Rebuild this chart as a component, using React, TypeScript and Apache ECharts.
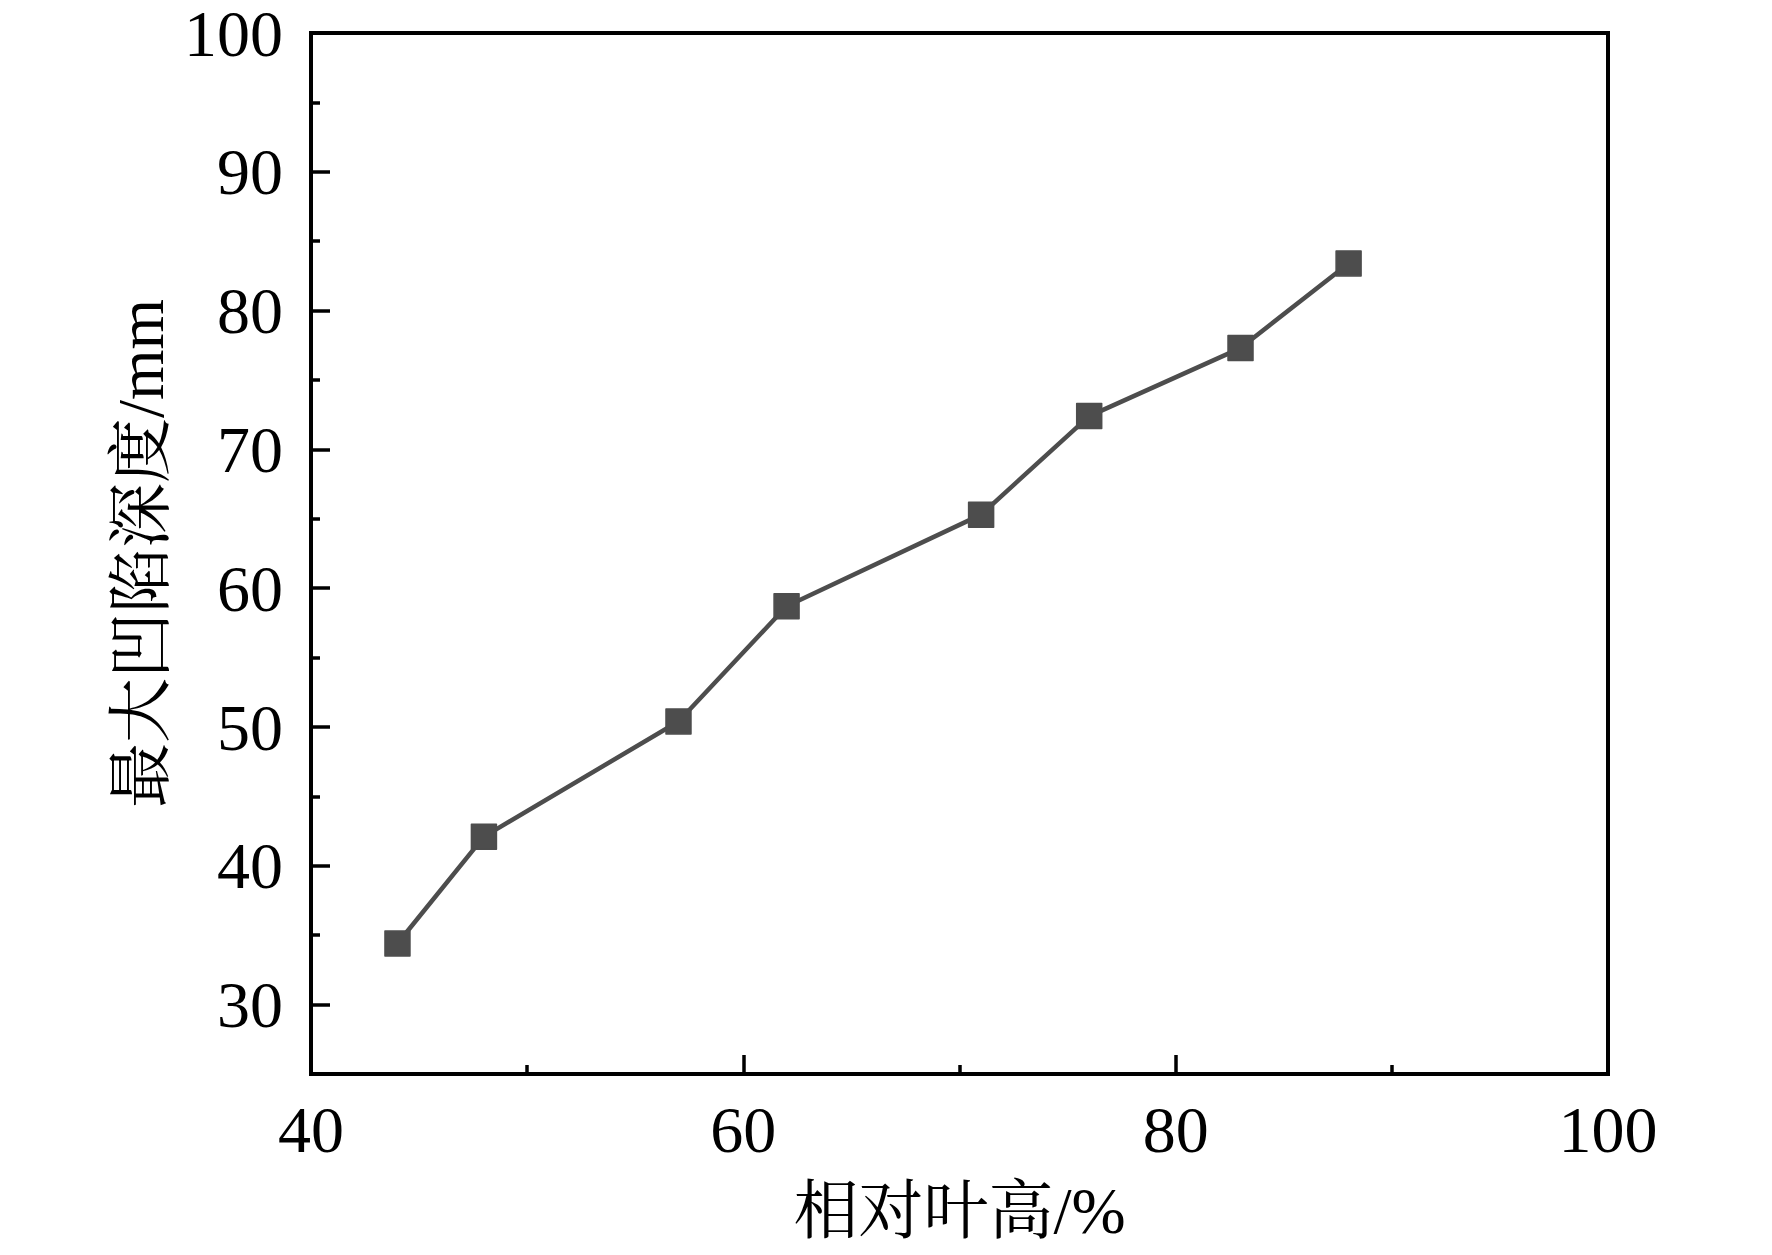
import React, { useEffect, useRef } from "react";
import * as echarts from "echarts";

const relHeight = [44, 48, 57, 62, 71, 76, 83, 88];
const maxDepth = [34.4, 42.1, 50.4, 58.7, 65.3, 72.4, 77.3, 83.4];
const yMajorTicks = [30, 40, 50, 60, 70, 80, 90, 100];
const yMinorTicks = [35, 45, 55, 65, 75, 85, 95];
const xTitle = "相对叶高/%";
const yTitle = "最大凹陷深度/mm";

const FONT = "'Liberation Serif', 'Times New Roman', 'Noto Sans CJK SC', serif";
const CJK_FONT = "'Liberation Serif', 'Noto Serif CJK SC', 'Noto Sans CJK SC', serif";

export default function App() {
  const ref = useRef<HTMLDivElement>(null);
  useEffect(() => {
    document.body.style.margin = "0";
    const chart = echarts.init(ref.current!, null, { renderer: "svg" });
    const data = relHeight.map((x, i) => [x, maxDepth[i]]);
    chart.setOption({
      animation: false,
      backgroundColor: "#ffffff",
      grid: {
        left: 311,
        top: 31,
        width: 1297,
        height: 1043,
        show: true,
        borderColor: "#000",
        borderWidth: 4,
        backgroundColor: "transparent",
      },
      xAxis: {
        type: "value",
        min: 40,
        max: 100,
        interval: 20,
        name: xTitle,
        nameLocation: "middle",
        nameGap: 104,
        nameTextStyle: { fontFamily: CJK_FONT, fontSize: 65, color: "#000" },
        axisLine: { show: true, lineStyle: { color: "#000", width: 4 } },
        axisTick: { show: true, inside: true, length: 19, lineStyle: { color: "#000", width: 3.5 } },
        minorTick: { show: true, splitNumber: 2, length: 9, lineStyle: { color: "#000", width: 3.5 } },
        axisLabel: { fontFamily: FONT, fontSize: 66, lineHeight: 58, color: "#000", margin: 26 },
        splitLine: { show: false },
      },
      yAxis: [
        {
          type: "value",
          min: 25,
          max: 100,
          name: yTitle,
          nameLocation: "middle",
          nameGap: 130,
          nameRotate: 90,
          nameTextStyle: { fontFamily: CJK_FONT, fontSize: 65, color: "#000" },
          axisLine: { show: true, lineStyle: { color: "#000", width: 4 } },
          axisTick: {
            show: true,
            inside: true,
            length: 19,
            customValues: yMajorTicks,
            lineStyle: { color: "#000", width: 3.5 },
          },
          axisLabel: {
            fontFamily: FONT,
            fontSize: 66,
            lineHeight: 44,
            color: "#000",
            margin: 28,
            customValues: yMajorTicks,
          },
          splitLine: { show: false },
        },
        {
          type: "value",
          min: 25,
          max: 100,
          position: "left",
          axisLine: { show: false },
          axisTick: {
            show: true,
            inside: true,
            length: 9,
            customValues: yMinorTicks,
            lineStyle: { color: "#000", width: 3.5 },
          },
          axisLabel: { show: false },
          splitLine: { show: false },
        },
      ],
      series: [
        {
          type: "line",
          data,
          yAxisIndex: 0,
          symbol: "rect",
          symbolSize: 25,
          lineStyle: { color: "#4d4d4d", width: 4.5 },
          itemStyle: { color: "#4d4d4d", borderColor: "#4d4d4d", borderWidth: 1.5, borderJoin: "round" },
        },
      ],
    });
    return () => chart.dispose();
  }, []);
  return <div ref={ref} style={{ width: 1772, height: 1255 }} />;
}
